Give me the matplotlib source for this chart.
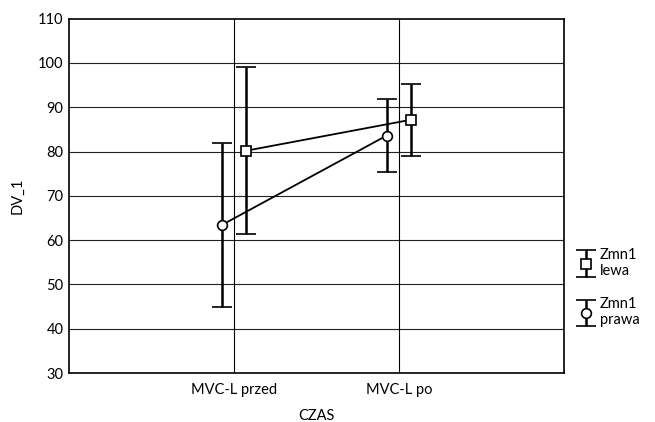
import matplotlib
matplotlib.use("Agg")
import matplotlib.pyplot as plt
from matplotlib.container import ErrorbarContainer
from matplotlib.legend_handler import HandlerErrorbar
import numpy as np

plt.rcParams['font.family'] = ['Lato', 'DejaVu Sans']

categories = ["MVC-L przed", "MVC-L po"]
lewa_mean = [80.2, 87.2]
lewa_err = [18.8, 8.1]
prawa_mean = [63.4, 83.6]
prawa_err = [18.6, 8.2]
yticks = [30, 40, 50, 60, 70, 80, 90, 100, 110]

fig = plt.figure(figsize=(6.55, 4.22), dpi=100)
ax = fig.add_axes([0.1053, 0.116, 0.7557, 0.8397])

x = np.arange(1, len(categories) + 1)
ax.set_xlim(0, 3)
ax.set_ylim(30, 110)
ax.set_yticks(yticks)
ax.set_xticks(x)
ax.set_xticklabels(categories)
ax.tick_params(length=0, labelsize=10.5, pad=7)
ax.tick_params(axis='y', pad=4)

for yv in yticks[1:-1]:
    ax.axhline(yv, color='#222222', lw=0.8, zorder=0)
for xv in x:
    ax.axvline(xv, color='black', lw=0.8, zorder=0)

off = 0.075
style = dict(color='black', mfc='white', mec='black', mew=1.2, lw=1.3,
             elinewidth=1.8, capsize=7, capthick=1.8, zorder=3)
ax.errorbar(x + off, lewa_mean, yerr=lewa_err, fmt='-s', ms=6.5, **style)
ax.errorbar(x - off, prawa_mean, yerr=prawa_err, fmt='-o', ms=7, **style)

# legend proxies (vertical bar with marker, no connecting line)
pl = ax.errorbar([np.nan], [np.nan], yerr=[1], fmt='s', ls='none', ms=6.5,
                 label="Zmn1\nlewa", **style)
pp = ax.errorbar([np.nan], [np.nan], yerr=[1], fmt='o', ls='none', ms=7,
                 label="Zmn1\nprawa", **style)

for s in ax.spines.values():
    s.set_linewidth(1.2)

ax.set_ylabel("DV_1", fontsize=10.5, labelpad=10)
ax.set_xlabel("CZAS", fontsize=10.5, labelpad=9)

fig.legend(handles=[pl, pp], loc='center left', bbox_to_anchor=(0.865, 0.318),
           frameon=False, fontsize=10.5, handlelength=0.8, handletextpad=0.6,
           labelspacing=1.3,
           handler_map={ErrorbarContainer: HandlerErrorbar(yerr_size=0.9)})

fig.savefig("out.png", dpi=100)
